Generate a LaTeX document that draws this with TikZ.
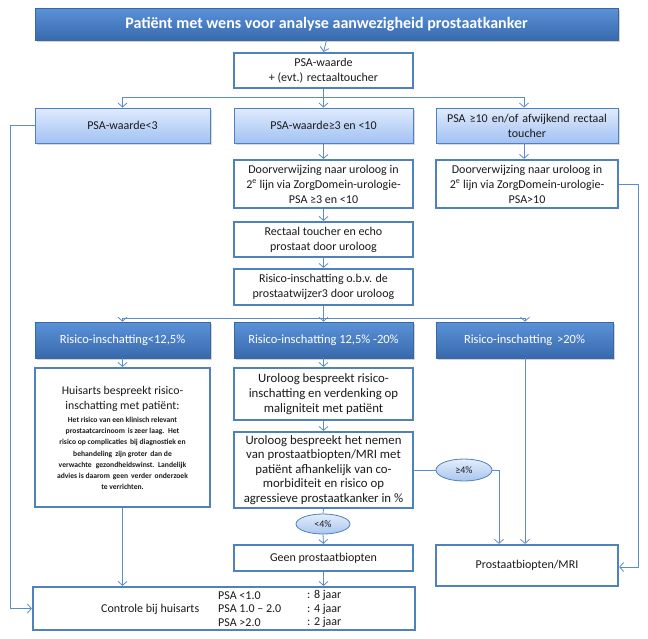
\documentclass[tikz,border=0pt]{standalone}
\usepackage{fontspec}
\setmainfont{Carlito}
\usetikzlibrary{arrows.meta,shadows,shapes.geometric}
\definecolor{bl}{HTML}{4F81BD}
\definecolor{ln}{HTML}{5B8BC9}
\definecolor{dtop}{HTML}{5B92D8}
\definecolor{dbot}{HTML}{3869AD}
\definecolor{ddraw}{HTML}{3A679F}
\definecolor{ltop}{HTML}{E0EBFD}
\definecolor{lbot}{HTML}{A2C1F3}
\definecolor{otop}{HTML}{E3EDFC}
\definecolor{obot}{HTML}{A9C6EE}
\definecolor{txt}{HTML}{1A1A1A}
\begin{document}
\begin{tikzpicture}[x=1pt,y=-1pt,
  base/.style={rectangle, inner sep=1pt, align=center, text=txt, font=\fontsize{12}{15}\selectfont},
  darkbox/.style={base, draw=ddraw, line width=0.6pt, top color=dtop, bottom color=dbot, text=white,
    drop shadow={opacity=0.35, shadow xshift=2pt, shadow yshift=-2pt}},
  lightbox/.style={base, draw=bl, line width=0.9pt, top color=ltop, bottom color=lbot,
    drop shadow={opacity=0.3, shadow xshift=2pt, shadow yshift=-2pt}},
  whitebox/.style={base, draw=bl, line width=2.2pt, fill=white},
  oval/.style={ellipse, draw=bl, line width=0.8pt, top color=otop, bottom color=obot, inner sep=0pt,
    text=txt, font=\fontsize{10}{12}\selectfont},
  conn/.style={draw=ln, line width=0.8pt, -{Straight Barb[length=4pt,width=9pt]}},
  plain/.style={draw=ln, line width=0.8pt},
  lbl/.style={inner sep=0pt, anchor=west, text=txt, font=\fontsize{12}{14}\selectfont},
  inner/.style={inner sep=0pt, align=center, text=txt}
]
\useasboundingbox (0,0) rectangle (648,638);

% title
\node[darkbox, minimum width=583pt, minimum height=32pt, font=\fontsize{16}{18}\selectfont\bfseries]
  (title) at (326.5,24) {Patiënt met wens voor analyse aanwezigheid prostaatkanker};

\node[whitebox, minimum width=179pt, minimum height=35pt] (psa) at (323.5,70.5)
  {PSA-waarde\\+ (evt.) rectaaltoucher};

% row 2
\node[lightbox, minimum width=175pt, minimum height=35pt] (low) at (122.5,125.5) {PSA-waarde<3};
\node[lightbox, minimum width=179pt, minimum height=35pt] (mid) at (323.5,125.5) {PSA-waarde≥3 en <10};
\node[lightbox, minimum width=182pt, minimum height=35pt, text width=178pt] (high) at (527,125.5)
  {PSA ≥10 en/of afwijkend rectaal\\toucher};

\node[whitebox, minimum width=179pt, minimum height=48pt] (ref1) at (323.5,184)
  {Doorverwijzing naar uroloog in\\2\textsuperscript{e} lijn via ZorgDomein-urologie-\\PSA ≥3 en <10};
\node[whitebox, minimum width=182pt, minimum height=48pt] (ref2) at (527,184)
  {Doorverwijzing naar uroloog in\\2\textsuperscript{e} lijn via ZorgDomein-urologie-\\PSA>10};

\node[whitebox, minimum width=179pt, minimum height=35pt] (rect) at (323.5,239.5)
  {Rectaal toucher en echo\\prostaat door uroloog};
\node[whitebox, minimum width=179pt, minimum height=36pt] (risk) at (323.5,287)
  {Risico-inschatting o.b.v. de\\prostaatwijzer3 door uroloog};

% risk row
\node[darkbox, minimum width=175pt, minimum height=36pt, font=\fontsize{12.5}{15}\selectfont] (r1) at (122.5,340) {Risico-inschatting<12,5\%};
\node[darkbox, minimum width=179pt, minimum height=36pt, font=\fontsize{12.5}{15}\selectfont] (r2) at (323.5,340) {Risico-inschatting 12,5\% -20\%};
\node[darkbox, minimum width=177pt, minimum height=36pt, font=\fontsize{12.5}{15}\selectfont] (r3) at (524.5,340) {Risico-inschatting \,>20\%};

\node[whitebox, minimum width=175pt, minimum height=139pt] (ha) at (122.5,437.5) {};
\node[inner, font=\fontsize{11.8}{15}\selectfont] (hahead) at (122.5,398.5)
  {Huisarts bespreekt risico-\\inschatting met patiënt:};
\node[inner, font=\fontsize{7.6}{11.2}\selectfont\bfseries] (habody) at (122.5,453.5)
  {Het risico van een klinisch relevant\\prostaatcarcinoom\, is zeer laag.\, Het\\risico op complicaties\, bij diagnostiek en\\behandeling\, zijn groter\, dan de\\verwachte\,\, gezondheidswinst.\, Landelijk\\advies is daarom\, geen\, verder\, onderzoek\\te verrichten.};

\node[whitebox, minimum width=179pt, minimum height=52pt, font=\fontsize{12.8}{15}\selectfont] (u1) at (323.5,394)
  {Uroloog bespreekt risico-\\inschatting en verdenking op\\maligniteit met patiënt};
\node[whitebox, minimum width=179pt, minimum height=76pt, font=\fontsize{12.8}{14.5}\selectfont] (u2) at (323.5,470)
  {Uroloog bespreekt het nemen\\van prostaatbiopten/MRI met\\patiënt afhankelijk van co-\\morbiditeit en risico op\\agressieve prostaatkanker in \%};

\node[oval, minimum width=56pt, minimum height=22pt] (ge) at (464,470) {≥4\%};
\node[oval, minimum width=54pt, minimum height=20pt] (lt) at (323,524) {<4\%};

\node[whitebox, minimum width=179pt, minimum height=26pt] (geen) at (323.5,558) {Geen prostaatbiopten};
\node[whitebox, minimum width=182pt, minimum height=41pt] (bio) at (527,565.5) {Prostaatbiopten/MRI};

\node[whitebox, minimum width=382pt, minimum height=43pt] (ctrl) at (224,608.5) {};
\node[lbl] (ctxt) at (101,609) {Controle bij huisarts};
\node[lbl] (p1) at (218,595.5) {PSA <1.0};
\node[lbl] (p2) at (218,609) {PSA 1.0 – 2.0};
\node[lbl] (p3) at (218,622.5) {PSA >2.0};
\node[lbl] (j1) at (307,595.5) {: 8 jaar};
\node[lbl] (j2) at (307,609) {: 4 jaar};
\node[lbl] (j3) at (307,622.5) {: 2 jaar};

% connectors
\draw[conn] (title.south) -- (psa.north);
\coordinate (b1) at (323.5,97);
\coordinate (b1l) at (122.5,97);
\coordinate (b1r) at (524,97);
\draw[plain] (psa.south) -- (b1);
\draw[plain] (b1l) -- (b1r);
\draw[conn] (b1l) -- (low.north);
\draw[conn] (b1) -- (mid.north);
\draw[conn] (b1r) -- (b1r |- high.north);
\draw[conn] (mid.south) -- (ref1.north);
\draw[conn] (b1r |- high.south) -- (b1r |- ref2.north);
\draw[conn] (ref1.south) -- (rect.north);
\draw[conn] (rect.south) -- (risk.north);
\coordinate (b2) at (323.5,318);
\coordinate (b2l) at (122.5,318);
\coordinate (b2r) at (525,318);
\draw[plain] (risk.south) -- (b2);
\draw[plain] (b2l) -- (b2r);
\draw[conn] (b2l) -- (r1.north);
\draw[conn] (b2) -- (r2.north);
\draw[conn] (b2r) -- (b2r |- r3.north);
\draw[conn] (r1.south) -- (ha.north);
\draw[conn] (r2.south) -- (u1.north);
\draw[conn] (u1.south) -- (u2.north);
\draw[plain] (u2.east) -- (ge.west);
\coordinate (gr) at (499,470);
\draw[conn] (ge.east) -- (gr) -- (gr |- bio.north);
\draw[conn] (b2r |- r3.south) -- (b2r |- bio.north);
\draw[plain] (u2.south) -- (lt.north);
\draw[conn] (lt.south) -- (geen.north);
\draw[conn] (ha.south) -- (ha.south |- ctrl.north);
\draw[conn] (geen.south) -- (geen.south |- ctrl.north);
% side loops
\coordinate (ll) at (10,125.5);
\draw[conn] (low.west) -- (ll) -- (ll |- ctrl.west) -- (ctrl.west);
\coordinate (rr) at (638,184);
\draw[conn] (ref2.east) -- (rr) -- (rr |- 567,567) -- (bio.east |- 567,567);
\end{tikzpicture}
\end{document}
